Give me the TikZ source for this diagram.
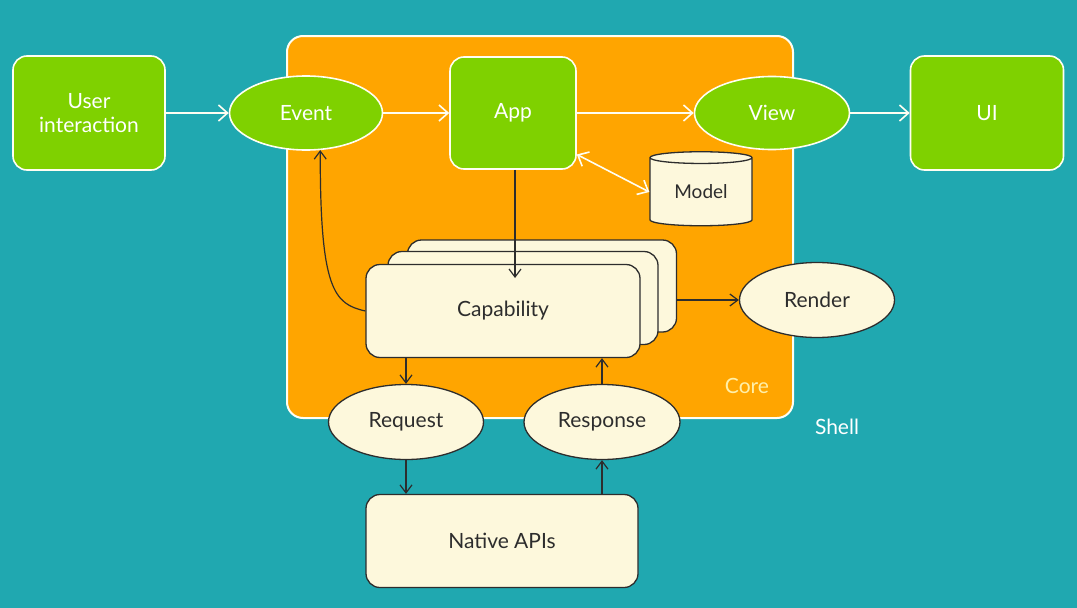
\documentclass[tikz,border=0pt]{standalone}
\usepackage{fontspec}
\setmainfont{Lato}
\usetikzlibrary{arrows.meta,shapes.geometric,calc}
\definecolor{teal}{RGB}{32,168,176}
\definecolor{orng}{RGB}{255,165,0}
\definecolor{grn}{RGB}{127,209,0}
\definecolor{cream}{RGB}{253,248,220}
\definecolor{ink}{RGB}{45,45,45}
\definecolor{corelbl}{RGB}{255,240,170}
\tikzset{
  lbl/.style={font=\fontsize{21}{24}\selectfont},
  gbox/.style={draw=white!95!yellow, line width=1.6pt, fill=grn, rounded corners=14pt, text=white, lbl, align=center},
  gell/.style={ellipse, draw=white!95!yellow, line width=1.6pt, fill=grn, text=white, lbl},
  cbox/.style={draw=ink, line width=1.3pt, fill=cream, rounded corners=14pt, text=ink, lbl},
  cell/.style={ellipse, draw=ink, line width=1.3pt, fill=cream, text=ink, lbl},
  warr/.style={draw=white!95!yellow, line width=1.6pt, -{Straight Barb[length=9pt,width=16pt,line width=1.6pt]}},
  wdarr/.style={draw=white!95!yellow, line width=1.6pt, {Straight Barb[length=9pt,width=16pt,line width=1.6pt]}-{Straight Barb[length=9pt,width=16pt,line width=1.6pt]}},
  darr/.style={draw=ink, line width=1.2pt, -{Straight Barb[length=8pt,width=12pt,line width=1.2pt]}},
}
\begin{document}
\begin{tikzpicture}[x=1pt,y=-1pt]
\useasboundingbox (0,0) rectangle (1077,608);
\fill[teal] (0,0) rectangle (1077,608);
% core
\node[draw=white!95!yellow, line width=2pt, fill=orng, rounded corners=16pt, minimum width=506pt, minimum height=382pt, inner sep=0pt] (core) at (540,227) {};
\node[text=corelbl, lbl, anchor=base] (corelab) at (747,393) {Core};
\node[text=white, lbl, anchor=base] (shelllab) at (837,434) {Shell};
% top row
\node[gbox, minimum width=152pt, minimum height=114pt, inner sep=2pt] (ui1) at (89,113) {User\\interaction};
\node[gell, minimum width=153pt, minimum height=74pt, inner sep=0pt] (ev) at (306,113) {Event};
\node[gbox, minimum width=126pt, minimum height=112pt] (app) at (513,113) {App};
\node[gell, minimum width=155pt, minimum height=73pt, inner sep=0pt] (view) at (772,113) {View};
\node[gbox, minimum width=153pt, minimum height=114pt] (ui) at (987,113) {UI};
% model
\node[cylinder, shape border rotate=90, aspect=0.22, draw=ink, line width=1.3pt, fill=cream, minimum width=102pt, minimum height=74pt, inner sep=0pt, text=ink, font=\fontsize{19}{22}\selectfont] (model) at (701,192) {\raisebox{-6pt}{Model}};
% capability stack
\node[cbox, minimum width=269pt, minimum height=92pt] (cap3) at (542,286) {};
\node[cbox, minimum width=270pt, minimum height=93pt] (cap2) at (523,298) {};
\node[cbox, minimum width=274pt, minimum height=93pt] (cap) at (503,311) {Capability};
% render etc
\node[cell, minimum width=155pt, minimum height=75pt, inner sep=0pt] (render) at (817,300) {Render};
\node[cell, minimum width=155pt, minimum height=75pt, inner sep=0pt] (req) at (406,422) {Request};
\node[cell, minimum width=156pt, minimum height=75pt, inner sep=0pt] (resp) at (602,422) {Response};
\node[cbox, minimum width=272pt, minimum height=93pt] (native) at (502,541) {Native APIs};
% white arrows
\draw[warr] (ui1.east) -- (ev.west);
\draw[warr] (ev.east) -- (app.west);
\draw[warr] (app.east) -- (view.west);
\draw[warr] (view.east) -- (ui.west);
\draw[wdarr] (app.-33) -- (model.west);
% dark arrows
\coordinate (captop) at (515,278);
\draw[darr] (app.south -| captop) -- (captop);
\draw[darr] (cap.west) .. controls (334,304) and (320,290) .. (ev.-69);
\draw[darr] (cap3.east |- render.west) -- (render.west);
\draw[darr] (req.north |- cap.south) -- (req.north);
\draw[darr] (resp.north) -- (resp.north |- cap.south);
\draw[darr] (req.south) -- (native.north -| req.south);
\draw[darr] (native.north -| resp.south) -- (resp.south);
\end{tikzpicture}
\end{document}
